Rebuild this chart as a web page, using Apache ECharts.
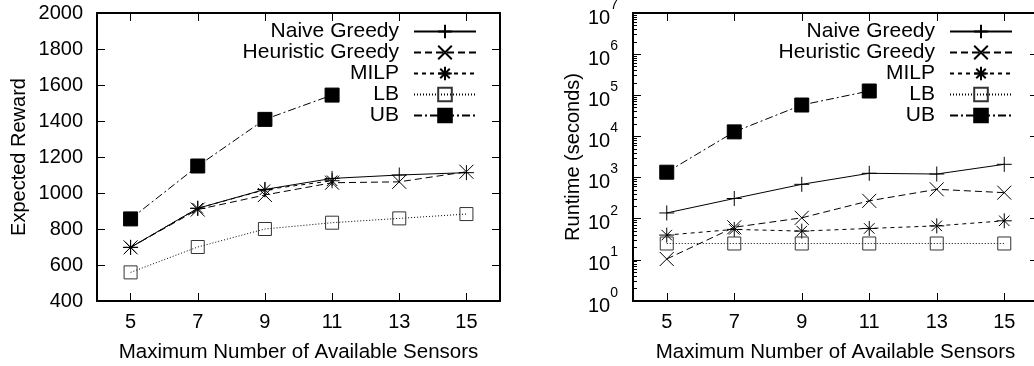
<!DOCTYPE html>
<html>
<head>
<meta charset="utf-8">
<script src="https://cdn.jsdelivr.net/npm/echarts@6/dist/echarts.min.js"></script>
<style>
  html, body { margin: 0; padding: 0; background: #fff; }
  #chart { width: 1034px; height: 366px; }
</style>
</head>
<body>
<div id="chart"></div>
<script>
const sensors = [5, 7, 9, 11, 13, 15];
const seriesNames = ["Naive Greedy", "Heuristic Greedy", "MILP", "LB", "UB"];

// left panel: expected reward
const rewardNaive = [698, 915, 1020, 1081, 1100, 1113];
const rewardHeuristic = [698, 908, 989, 1057, 1062, 1118];
const rewardMilp = [698, 915, 1018, 1068];
const rewardLb = [559, 700, 800, 835, 859, 883];
const rewardUb = [856, 1150, 1409, 1544];

// right panel: runtime in seconds (log scale)
const runtimeNaive = [138, 310, 685, 1270, 1220, 2100];
const runtimeHeuristic = [10.5, 62, 105, 272, 518, 430];
const runtimeMilp = [40, 55, 50, 58, 67, 89];
const runtimeLb = [25, 25, 25, 25, 25, 25];
const runtimeUb = [1350, 12900, 58000, 127000];

const xTicks = [5, 7, 9, 11, 13, 15];
const rewardTicks = [400, 600, 800, 1000, 1200, 1400, 1600, 1800, 2000];
const runtimeTicks = [1, 10, 100, 1000, 10000, 100000, 1000000, 10000000];

let minorTicks = [];
runtimeTicks.slice(0, -1).forEach((d) => {
  for (let k = 2; k <= 9; k++) minorTicks.push(d * k);
});

const font = "'Liberation Sans', Arial, Helvetica, sans-serif";
const fs = 20;

const styles = {
  "Naive Greedy": { symbol: "path://M5,0L5,10M0,5L10,5", size: 15, dash: "solid", fill: "none" },
  "Heuristic Greedy": { symbol: "path://M0,0L10,10M10,0L0,10", size: 14, dash: [7, 4], fill: "none" },
  "MILP": { symbol: "path://M5,0L5,10M0,5L10,5M1.5,1.5L8.5,8.5M8.5,1.5L1.5,8.5", size: 15, dash: [4, 4], fill: "none" },
  "LB": { symbol: "rect", size: 13, dash: [1, 2], fill: "none" },
  "UB": { symbol: "rect", size: 14, dash: [8, 3, 2, 3], fill: "#000" },
};

function pairs(values) {
  return values.map((v, i) => [sensors[i], v]);
}

function makeSeries(name, values, xi, yi) {
  const s = styles[name];
  return {
    name: name,
    type: "line",
    xAxisIndex: xi,
    yAxisIndex: yi,
    data: pairs(values),
    symbol: s.symbol,
    symbolSize: s.size,
    lineStyle: { color: "#000", width: 1, type: s.dash },
    itemStyle: { color: s.fill, borderColor: name === "LB" ? "#333" : "#000", borderWidth: 1 },
    animation: false,
    z: 3,
  };
}

function xAxisPair(gridIndex, withName) {
  const base = {
    gridIndex: gridIndex,
    type: "value",
    min: 4,
    max: 16,
    splitLine: { show: false },
    axisLine: { show: true, onZero: false, lineStyle: { color: "#000", width: 2 } },
    axisTick: { show: true, inside: true, length: 8, customValues: xTicks, lineStyle: { color: "#000", width: 1 } },
  };
  return [
    Object.assign({}, base, {
      position: "bottom",
      axisLabel: { show: true, customValues: xTicks, margin: 11, color: "#000", fontSize: fs, fontFamily: font },
      name: withName,
      nameLocation: "middle",
      nameGap: 41,
      nameTextStyle: { color: "#000", fontSize: 20.5, fontFamily: font },
    }),
    Object.assign({}, base, { position: "top", axisLabel: { show: false } }),
  ];
}

const superRich = {
  b: { fontSize: fs, fontFamily: font, color: "#000", padding: [10, 0, 0, 0], verticalAlign: "bottom" },
  e: { fontSize: 14, fontFamily: font, color: "#000", verticalAlign: "top" },
};

function logYAxis(position, major, withName) {
  return {
    gridIndex: 1,
    type: "log",
    logBase: 10,
    min: 1,
    max: 10000000,
    position: position,
    splitLine: { show: false },
    axisLine: { show: major, onZero: false, lineStyle: { color: "#000", width: 2 } },
    axisTick: {
      show: true, inside: true,
      length: major ? 8 : 4,
      customValues: major ? runtimeTicks : minorTicks,
      lineStyle: { color: "#000", width: 1 },
    },
    axisLabel: major && position === "left" ? {
      show: true,
      customValues: runtimeTicks,
      margin: 15,
      formatter: (v) => "{b|10}{e|" + Math.round(Math.log10(v)) + "}",
      rich: superRich,
    } : { show: false },
    name: withName,
    nameLocation: "middle",
    nameGap: 50,
    nameTextStyle: { color: "#000", fontSize: fs, fontFamily: font },
  };
}

function legendFor(right) {
  return {
    data: seriesNames,
    orient: "vertical",
    align: "right",
    right: right,
    top: 21,
    padding: 0,
    itemWidth: 62,
    itemHeight: 17,
    itemGap: 0,
    selectedMode: false,
    textStyle: { color: "#000", fontSize: 21, fontFamily: font, padding: [0, 10, 0, 0] },
  };
}

const chart = echarts.init(document.getElementById("chart"), null, { renderer: "canvas" });

const option = {
  backgroundColor: "#fff",
  animation: false,
  grid: [
    { left: 97, right: 534, top: 13, bottom: 65, outerBoundsMode: "none", containLabel: false },
    { left: 633, right: -4, top: 13, bottom: 65, outerBoundsMode: "none", containLabel: false },
  ],
  legend: [legendFor(557), legendFor(21)],
  xAxis: [].concat(
    xAxisPair(0, "Maximum Number of Available Sensors"),
    xAxisPair(1, "Maximum Number of Available Sensors")
  ),
  yAxis: [
    {
      gridIndex: 0,
      type: "value",
      min: 400,
      max: 2000,
      interval: 200,
      position: "left",
      splitLine: { show: false },
      axisLine: { show: true, onZero: false, lineStyle: { color: "#000", width: 2 } },
      axisTick: { show: true, inside: true, length: 8, lineStyle: { color: "#000", width: 1 } },
      axisLabel: { show: true, margin: 14, color: "#000", fontSize: fs, fontFamily: font, formatter: (v) => String(v) },
      name: "Expected Reward",
      nameLocation: "middle",
      nameGap: 68,
      nameTextStyle: { color: "#000", fontSize: fs, fontFamily: font },
    },
    {
      gridIndex: 0,
      type: "value",
      min: 400,
      max: 2000,
      interval: 200,
      position: "right",
      splitLine: { show: false },
      axisLine: { show: true, onZero: false, lineStyle: { color: "#000", width: 2 } },
      axisTick: { show: true, inside: true, length: 8, lineStyle: { color: "#000", width: 1 } },
      axisLabel: { show: false },
    },
    logYAxis("left", true, "Runtime (seconds)"),
    logYAxis("left", false, ""),
    logYAxis("right", true, ""),
    logYAxis("right", false, ""),
  ],
  series: [
    makeSeries("Naive Greedy", rewardNaive, 0, 0),
    makeSeries("Heuristic Greedy", rewardHeuristic, 0, 0),
    makeSeries("MILP", rewardMilp, 0, 0),
    makeSeries("LB", rewardLb, 0, 0),
    makeSeries("UB", rewardUb, 0, 0),
    makeSeries("Naive Greedy", runtimeNaive, 2, 2),
    makeSeries("Heuristic Greedy", runtimeHeuristic, 2, 2),
    makeSeries("MILP", runtimeMilp, 2, 2),
    makeSeries("LB", runtimeLb, 2, 2),
    makeSeries("UB", runtimeUb, 2, 2),
  ],
};

chart.setOption(option);
</script>
</body>
</html>
